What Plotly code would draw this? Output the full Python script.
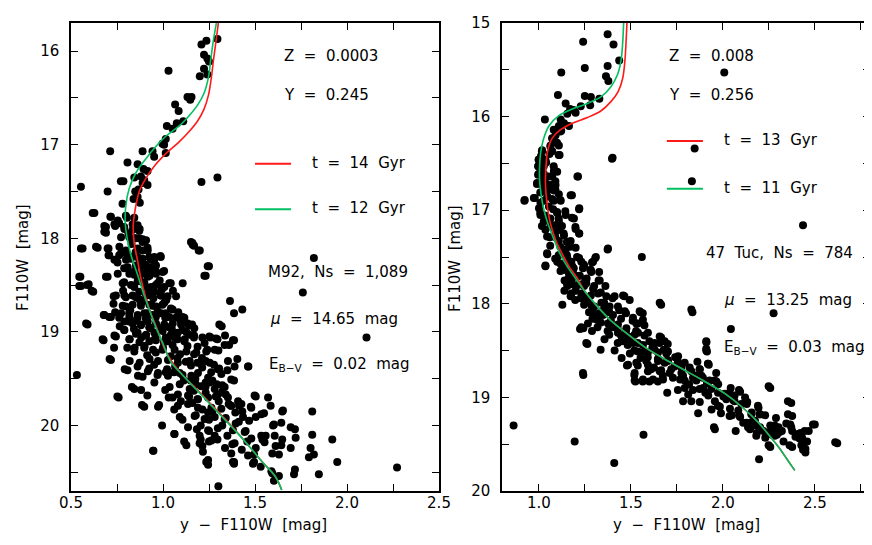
import plotly.graph_objects as go
from plotly.subplots import make_subplots

# ---------------- data ----------------
# M92 stars: [y - F110W, F110W]
m92_stars = [
    [1.296, 15.87], [1.209, 15.93], [1.236, 15.89], [1.223, 16.04], [1.241, 16.08], [1.250, 16.11],
    [1.030, 16.21], [1.223, 16.19], [1.200, 16.27], [1.241, 16.25], [1.133, 16.49], [1.155, 16.49],
    [1.148, 16.52], [1.066, 16.57], [1.085, 16.64], [1.110, 16.75], [1.075, 16.77], [1.052, 16.83],
    [1.021, 16.80], [1.015, 16.94], [0.997, 16.99], [1.006, 17.00], [1.015, 17.09], [0.943, 17.07],
    [0.952, 17.13], [0.889, 17.07], [0.713, 17.07], [0.807, 17.19], [0.862, 17.21], [0.894, 17.26],
    [0.916, 17.28], [0.844, 17.35], [0.880, 17.34], [0.898, 17.38], [0.889, 17.41], [0.916, 17.43],
    [0.771, 17.39], [0.785, 17.39], [0.554, 17.45], [0.699, 17.50], [0.849, 17.50], [0.867, 17.48],
    [0.862, 17.56], [0.840, 17.58], [0.780, 17.63], [0.874, 17.62], [1.209, 17.40], [1.296, 17.35],
    [0.627, 17.73], [0.717, 17.77], [0.798, 17.76], [0.762, 17.84], [0.690, 17.88], [0.690, 17.94],
    [0.740, 17.87], [0.789, 17.88], [0.835, 17.91], [0.873, 17.90], [0.844, 18.00], [0.871, 18.00],
    [0.889, 18.04], [0.916, 18.10], [0.563, 18.11], [0.645, 18.10], [0.704, 18.11], [0.704, 18.18],
    [0.762, 18.18], [0.753, 18.26], [0.798, 18.15], [0.825, 18.22], [0.789, 18.32], [0.871, 18.22],
    [0.925, 18.20], [0.952, 18.24], [0.988, 18.20], [0.907, 18.35], [0.844, 18.39], [0.889, 18.47],
    [0.943, 18.35], [1.006, 18.35], [0.961, 18.50], [0.916, 18.54], [1.042, 18.48], [1.160, 18.05],
    [1.169, 18.08], [1.200, 18.13], [1.250, 18.30], [1.232, 18.40], [1.820, 18.21], [1.760, 18.58],
    [0.551, 18.41], [0.555, 18.51], [0.596, 18.49], [0.621, 18.57], [0.699, 18.41], [0.789, 18.47],
    [0.844, 18.52], [0.798, 18.63], [0.744, 18.61], [0.853, 18.63], [0.894, 18.67], [0.934, 18.61],
    [0.988, 18.61], [0.997, 18.71], [0.943, 18.72], [0.880, 18.72], [0.798, 18.73], [0.740, 18.79],
    [0.681, 18.82], [0.708, 18.84], [0.762, 18.85], [0.816, 18.80], [0.862, 18.85], [0.916, 18.80],
    [0.961, 18.84], [1.015, 18.80], [1.052, 18.76], [1.070, 18.85], [1.106, 18.84], [1.142, 18.93],
    [1.106, 18.98], [1.033, 18.95], [0.988, 18.96], [0.925, 18.95], [0.880, 18.93], [0.816, 18.89],
    [0.789, 18.98], [0.853, 19.02], [0.907, 19.04], [0.961, 19.09], [1.015, 19.06], [1.079, 19.08],
    [1.169, 19.04], [1.214, 19.06], [1.259, 19.06], [1.296, 19.08], [1.359, 19.14], [1.386, 19.09],
    [1.337, 19.04], [1.319, 18.94], [1.386, 18.80], [1.431, 18.76], [1.364, 18.67], [2.106, 19.06],
    [0.590, 18.92], [0.677, 19.09], [0.744, 19.05], [0.717, 19.30], [0.532, 19.46], [0.807, 19.41],
    [0.844, 19.21], [0.898, 19.17], [0.961, 19.22], [0.997, 19.19], [1.042, 19.26], [1.079, 19.28],
    [1.124, 19.32], [1.169, 19.24], [1.187, 19.33], [1.232, 19.31], [1.277, 19.35], [1.305, 19.39],
    [1.350, 19.41], [1.404, 19.29], [1.464, 19.37], [1.241, 19.19], [1.301, 19.20], [0.862, 19.37],
    [0.925, 19.39], [0.889, 19.48], [0.970, 19.46], [1.015, 19.43], [1.060, 19.43], [1.106, 19.46],
    [1.151, 19.52], [1.178, 19.56], [1.232, 19.54], [1.268, 19.52], [1.322, 19.57], [1.386, 19.52],
    [1.341, 19.67], [1.287, 19.69], [1.232, 19.65], [1.187, 19.72], [1.142, 19.69], [1.097, 19.74],
    [1.052, 19.70], [0.979, 19.78], [0.898, 19.80], [0.844, 19.61], [0.759, 19.70], [0.948, 20.27],
    [1.061, 20.09], [1.115, 20.17], [1.106, 19.94], [1.160, 19.76], [1.178, 19.89], [1.214, 19.83],
    [1.268, 19.85], [1.250, 19.94], [1.205, 20.00], [1.250, 20.06], [1.205, 20.15], [1.214, 20.22],
    [1.250, 20.17], [1.296, 20.15], [1.322, 20.00], [1.341, 19.92], [1.368, 19.79], [1.413, 19.79],
    [1.431, 19.85], [1.395, 19.98], [1.449, 20.06], [1.458, 20.17], [1.377, 20.20], [1.350, 20.11],
    [1.504, 19.69], [1.477, 19.80], [1.549, 19.87], [1.585, 19.79], [1.504, 19.91], [1.603, 19.99],
    [1.648, 19.85], [1.694, 20.02], [1.717, 20.04], [1.721, 20.13], [1.648, 20.15], [1.612, 20.22],
    [1.540, 20.15], [1.558, 20.11], [1.504, 20.24], [1.594, 20.30], [1.630, 20.31], [1.694, 20.24],
    [1.811, 19.85], [1.811, 20.10], [1.802, 20.24], [1.820, 20.31], [1.793, 20.34], [1.920, 20.15],
    [1.947, 20.39], [1.847, 20.52], [2.272, 20.45], [1.717, 20.47], [1.712, 20.52], [1.630, 20.54],
    [1.594, 20.51], [1.603, 20.59], [1.495, 20.39], [1.531, 20.44], [1.386, 20.39], [1.386, 20.41],
    [1.245, 20.37], [1.245, 20.42], [1.301, 20.65], [1.495, 20.31],
]
m92_stars_core = [
    [0.618, 17.73], [0.714, 17.77], [0.754, 17.81], [0.736, 17.85], [0.681, 17.87], [0.681, 17.93],
    [0.804, 17.78], [0.844, 17.78], [0.835, 17.85], [0.862, 17.86], [0.790, 17.90], [0.871, 17.92],
    [0.772, 17.99], [0.817, 17.99], [0.853, 18.00], [0.889, 18.01], [0.908, 18.02], [0.554, 18.11],
    [0.636, 18.09], [0.699, 18.11], [0.763, 18.09], [0.772, 18.16], [0.799, 18.13], [0.862, 18.11],
    [0.889, 18.13], [0.917, 18.13], [0.708, 18.18], [0.736, 18.23], [0.799, 18.23], [0.826, 18.20],
    [0.862, 18.20], [0.889, 18.22], [0.935, 18.23], [0.953, 18.20], [0.986, 18.19], [0.808, 18.31],
    [0.853, 18.29], [0.889, 18.31], [0.926, 18.31], [0.962, 18.29], [0.690, 18.41], [0.545, 18.41],
    [0.817, 18.38], [0.853, 18.39], [0.889, 18.38], [0.917, 18.41], [0.962, 18.38], [0.998, 18.36],
    [0.545, 18.51], [0.587, 18.50], [0.612, 18.56], [0.781, 18.48], [0.826, 18.50], [0.862, 18.46],
    [0.899, 18.48], [0.935, 18.52], [0.971, 18.48], [1.007, 18.52], [1.034, 18.48], [1.107, 18.48],
    [0.732, 18.62], [0.790, 18.61], [0.835, 18.61], [0.871, 18.57], [0.908, 18.61], [0.953, 18.57],
    [0.989, 18.61], [1.025, 18.62], [1.071, 18.62], [1.152, 18.04], [1.161, 18.07], [1.194, 18.13],
    [1.243, 18.30], [1.225, 18.40], [0.781, 18.72], [0.835, 18.71], [0.880, 18.69], [0.926, 18.71],
    [0.962, 18.73], [1.007, 18.69], [1.043, 18.75], [0.678, 18.82], [0.717, 18.84], [0.772, 18.80],
    [0.817, 18.84], [0.862, 18.82], [0.899, 18.80], [0.944, 18.82], [0.989, 18.80], [1.034, 18.84],
    [1.080, 18.84], [1.116, 18.85], [0.582, 18.91], [0.790, 18.89], [0.835, 18.91], [0.880, 18.92],
    [0.917, 18.89], [0.962, 18.91], [1.007, 18.92], [1.053, 18.91], [1.098, 18.92], [1.134, 18.91],
    [1.170, 18.96], [0.736, 19.04], [0.790, 18.98], [0.862, 19.01], [0.908, 19.03], [0.953, 19.01],
    [0.998, 18.99], [1.043, 19.03], [1.080, 19.01], [1.143, 19.03], [0.672, 19.08], [0.817, 19.08],
    [0.926, 19.10], [1.025, 19.10], [1.116, 19.10], [1.252, 19.05], [1.288, 19.07], [1.306, 18.92],
    [0.819, 19.08], [0.882, 19.06], [0.955, 19.08], [1.063, 19.06], [1.118, 19.08], [1.168, 19.06],
    [1.226, 19.12], [1.281, 19.19], [1.335, 19.14], [1.380, 19.09], [0.846, 19.17], [0.900, 19.15],
    [0.946, 19.19], [1.000, 19.17], [1.063, 19.19], [1.127, 19.21], [1.181, 19.22], [1.235, 19.21],
    [0.710, 19.29], [0.819, 19.31], [0.873, 19.33], [0.927, 19.29], [0.973, 19.31], [1.027, 19.30],
    [1.081, 19.33], [1.145, 19.31], [1.199, 19.33], [1.254, 19.33], [1.299, 19.40], [1.353, 19.31],
    [1.389, 19.37], [1.462, 19.37], [0.792, 19.40], [0.864, 19.47], [0.918, 19.42], [0.973, 19.44],
    [1.027, 19.47], [1.091, 19.44], [1.154, 19.47], [1.190, 19.44], [1.245, 19.49], [1.317, 19.45],
    [1.371, 19.51], [0.831, 19.59], [1.036, 19.59], [1.091, 19.56], [1.145, 19.61], [1.208, 19.58],
    [1.254, 19.54], [1.281, 19.61], [1.335, 19.59], [0.752, 19.69], [0.915, 19.68], [1.031, 19.70],
    [1.081, 19.67], [1.136, 19.68], [1.190, 19.72], [1.245, 19.70], [1.299, 19.67], [1.353, 19.70],
    [1.408, 19.74], [1.498, 19.68], [1.571, 19.70], [0.886, 19.78], [0.973, 19.80], [1.081, 19.79],
    [1.136, 19.77], [1.190, 19.81], [1.263, 19.81], [1.317, 19.82], [1.371, 19.79], [1.426, 19.77],
    [1.480, 19.81], [1.652, 19.84], [1.091, 19.91], [1.172, 19.90], [1.226, 19.93], [1.281, 19.91],
    [1.335, 19.93], [1.435, 19.91], [1.534, 19.88], [1.598, 20.00], [1.643, 19.97], [1.063, 20.09],
    [1.136, 20.02], [1.199, 20.11], [1.245, 20.05], [1.281, 20.11], [1.380, 20.05], [1.444, 20.07],
    [1.534, 20.11], [1.607, 20.11], [1.127, 20.21], [1.199, 20.19], [1.263, 20.16], [1.389, 20.19],
    [1.480, 20.14], [1.552, 20.18], [1.643, 20.21], [0.946, 20.27], [1.217, 20.28], [1.371, 20.30],
    [1.462, 20.32], [1.235, 20.39], [1.380, 20.39], [1.489, 20.41], [1.589, 20.49],
]
m92_stars_fill = [
    [0.812, 17.95], [0.829, 18.06], [0.851, 18.15], [0.874, 18.26], [0.846, 18.35], [0.903, 18.28],
    [0.927, 18.40], [0.871, 18.44], [0.957, 18.33], [0.982, 18.45], [0.911, 18.53], [0.948, 18.64],
    [0.869, 18.65], [0.993, 18.55], [1.018, 18.66], [1.054, 18.56], [0.822, 18.77], [0.852, 18.88],
    [0.907, 18.86], [0.933, 18.96], [0.971, 18.78], [1.012, 18.85], [1.048, 18.97], [1.083, 18.79],
    [1.097, 18.88], [1.127, 19.00], [1.158, 18.92], [0.872, 19.11], [0.962, 19.04], [1.004, 19.11],
    [1.052, 19.14], [1.093, 19.24], [1.133, 19.15], [1.188, 19.16], [1.212, 19.28], [1.152, 19.36],
    [1.066, 19.37], [1.022, 19.40], [0.952, 19.35], [1.113, 19.52], [1.176, 19.50], [1.213, 19.38],
    [1.262, 19.43], [1.292, 19.56], [1.231, 19.59], [1.168, 19.63], [1.322, 19.64], [1.357, 19.77],
    [1.245, 19.86], [1.303, 19.74], [1.393, 19.86], [1.412, 19.96], [1.468, 19.95], [1.298, 20.03],
    [1.337, 20.24], [1.428, 20.26], [1.184, 20.04], [0.783, 18.56], [0.754, 18.38], [0.731, 18.70],
    [0.842, 18.97], [0.765, 18.94], [0.806, 19.17], [0.734, 19.17], [0.914, 19.25], [0.953, 19.54],
    [0.881, 19.62], [1.012, 19.62], [1.061, 19.83], [0.995, 20.00],
]

# 47 Tuc stars: [y - F110W, F110W]
tuc47_stars = [
    [1.374, 15.12], [1.241, 15.20], [1.406, 15.23], [1.437, 15.40], [1.374, 15.46], [1.250, 15.48],
    [1.122, 15.53], [2.008, 15.53], [1.365, 15.57], [1.378, 15.62], [1.104, 15.77], [1.250, 15.78],
    [1.283, 15.79], [1.329, 15.81], [1.279, 15.88], [1.228, 15.89], [1.146, 15.86], [1.170, 15.92],
    [1.188, 15.93], [1.155, 15.97], [1.200, 15.96], [1.033, 16.03], [1.119, 16.03], [1.137, 16.07],
    [1.109, 16.10], [1.164, 16.10], [1.122, 16.15], [1.091, 16.20], [1.078, 16.26], [1.064, 16.31],
    [1.109, 16.31], [1.018, 16.36], [1.073, 16.37], [1.113, 16.41], [1.401, 16.44], [1.847, 16.34],
    [1.832, 16.69], [1.000, 16.46], [0.996, 16.53], [1.027, 16.53], [1.000, 16.61], [1.027, 16.61],
    [1.082, 16.58], [1.100, 16.59], [1.073, 16.64], [1.210, 16.64], [0.991, 16.71], [1.018, 16.73],
    [1.064, 16.73], [1.091, 16.73], [1.027, 16.79], [1.082, 16.79], [1.109, 16.83], [1.173, 16.84],
    [0.922, 16.90], [0.973, 16.87], [1.009, 16.92], [1.082, 16.90], [1.119, 16.90], [1.055, 16.96],
    [1.219, 16.99], [1.009, 17.05], [1.036, 17.06], [1.100, 17.03], [1.146, 17.05], [1.191, 17.09],
    [1.027, 17.12], [1.064, 17.16], [1.109, 17.12], [1.200, 17.20], [1.219, 17.25], [1.036, 17.21],
    [1.091, 17.23], [1.137, 17.27], [1.060, 17.29], [1.109, 17.33], [1.173, 17.33], [1.200, 17.40],
    [1.146, 17.42], [1.046, 17.47], [1.374, 17.42], [1.560, 17.50], [2.436, 17.16], [1.119, 17.47],
    [1.100, 17.55], [1.155, 17.51], [1.219, 17.51], [1.310, 17.50], [1.036, 17.60], [1.128, 17.60],
    [1.182, 17.60], [1.246, 17.59], [1.283, 17.64], [1.164, 17.68], [1.140, 17.75], [1.200, 17.70],
    [1.223, 17.70], [1.260, 17.73], [1.328, 17.66], [1.155, 17.81], [1.182, 17.79], [1.246, 17.81],
    [1.301, 17.81], [1.200, 17.86], [1.173, 17.92], [1.228, 17.94], [1.283, 17.91], [1.337, 17.88],
    [1.401, 17.94], [1.465, 17.92], [1.246, 18.01], [1.301, 18.03], [1.355, 17.99], [1.128, 18.01],
    [1.665, 18.01], [1.835, 18.09], [2.276, 18.10], [2.044, 18.27], [1.273, 18.09], [1.328, 18.10],
    [1.383, 18.09], [1.437, 18.07], [1.474, 18.10], [1.552, 18.09], [1.565, 18.10], [1.292, 18.16],
    [1.337, 18.20], [1.392, 18.18], [1.447, 18.16], [1.510, 18.18], [1.538, 18.21], [1.224, 18.27],
    [1.242, 18.26], [1.319, 18.25], [1.374, 18.29], [1.429, 18.27], [1.474, 18.29], [1.529, 18.29],
    [1.574, 18.23], [1.383, 18.33], [1.447, 18.34], [1.501, 18.36], [1.574, 18.34], [1.264, 18.43],
    [1.429, 18.42], [1.483, 18.44], [1.538, 18.42], [1.601, 18.40], [1.665, 18.36], [1.656, 18.42],
    [1.701, 18.43], [1.911, 18.41], [1.914, 18.51], [1.519, 18.50], [1.574, 18.51], [1.629, 18.49],
    [1.693, 18.53], [1.479, 18.66], [1.538, 18.66], [1.592, 18.57], [1.647, 18.59], [1.701, 18.60],
    [1.756, 18.62], [1.610, 18.70], [1.665, 18.71], [1.720, 18.70], [1.775, 18.68], [1.820, 18.68],
    [1.875, 18.70], [1.924, 18.65], [1.242, 18.76], [1.519, 18.76], [1.565, 18.83], [1.601, 18.83],
    [1.647, 18.83], [1.525, 18.83], [1.674, 18.77], [1.729, 18.79], [1.784, 18.77], [1.838, 18.79],
    [1.884, 18.77], [1.914, 18.85], [1.975, 18.86], [1.698, 18.95], [1.756, 18.92], [1.793, 18.90],
    [1.838, 18.92], [1.893, 18.90], [1.784, 19.04], [1.829, 19.04], [1.875, 19.05], [1.921, 18.98],
    [1.957, 19.04], [2.003, 18.99], [2.030, 18.97], [2.057, 19.03], [2.094, 18.94], [1.984, 19.10],
    [2.039, 19.12], [2.094, 19.21], [2.130, 19.07], [1.866, 19.17], [1.957, 19.34], [2.070, 19.36],
    [2.157, 19.16], [2.194, 19.11], [2.203, 19.18], [2.230, 19.19], [2.175, 19.25], [2.148, 19.34],
    [2.203, 19.32], [2.221, 19.36], [2.185, 19.38], [2.258, 19.30], [2.285, 19.34], [2.303, 19.32],
    [2.267, 19.40], [2.294, 19.40], [2.321, 19.36], [2.367, 19.29], [2.377, 19.36], [2.422, 19.38],
    [2.431, 19.43], [2.440, 19.49], [2.458, 19.47], [2.449, 19.55], [2.449, 19.59], [2.467, 19.36],
    [2.500, 19.29], [2.372, 19.06], [2.377, 19.20], [2.258, 18.90], [2.377, 19.53], [2.258, 19.53],
    [2.622, 19.49], [2.197, 19.66], [0.863, 19.30], [1.195, 19.47], [1.569, 19.40], [1.410, 19.70],
    [2.084, 19.14], [2.130, 19.27],
]
tuc47_stars_core = [
    [1.081, 16.14], [1.117, 16.16], [1.072, 16.23], [1.099, 16.28], [1.063, 16.32], [1.017, 16.37],
    [1.108, 16.41], [0.999, 16.46], [1.036, 16.46], [0.999, 16.53], [1.017, 16.56], [1.081, 16.53],
    [1.090, 16.58], [0.996, 16.62], [1.054, 16.64], [1.213, 16.64], [1.398, 16.45], [0.990, 16.72],
    [1.036, 16.71], [1.090, 16.69], [1.054, 16.78], [1.090, 16.78], [1.008, 16.81], [1.180, 16.84],
    [0.923, 16.89], [0.978, 16.87], [1.026, 16.90], [1.072, 16.88], [1.117, 16.89], [1.220, 16.98],
    [1.008, 17.03], [1.036, 17.06], [1.099, 17.02], [1.144, 17.01], [1.063, 17.09], [1.108, 17.09],
    [1.180, 17.08], [1.017, 17.17], [1.072, 17.18], [1.126, 17.17], [1.199, 17.18], [1.045, 17.28],
    [1.090, 17.29], [1.135, 17.25], [1.220, 17.25], [1.153, 17.34], [1.117, 17.39], [1.171, 17.39],
    [1.376, 17.41], [1.045, 17.46], [1.108, 17.48], [1.153, 17.48], [1.208, 17.50], [1.307, 17.51],
    [1.036, 17.59], [1.117, 17.57], [1.162, 17.55], [1.244, 17.58], [1.289, 17.56], [1.144, 17.64],
    [1.190, 17.62], [1.280, 17.64], [1.162, 17.73], [1.208, 17.71], [1.253, 17.75], [1.325, 17.75],
    [1.153, 17.78], [1.235, 17.79], [1.362, 17.81],
    [1.177, 17.55], [1.231, 17.55], [1.295, 17.55], [1.186, 17.64], [1.240, 17.62], [1.285, 17.66],
    [1.331, 17.75], [1.177, 17.75], [1.213, 17.80], [1.258, 17.78], [1.295, 17.84], [1.177, 17.89],
    [1.231, 17.89], [1.322, 17.89], [1.367, 17.92], [1.412, 17.92], [1.458, 17.91], [1.494, 17.96],
    [1.267, 17.98], [1.340, 17.99], [1.385, 18.03], [1.430, 18.03], [1.657, 17.99], [1.829, 18.06],
    [1.295, 18.10], [1.349, 18.12], [1.403, 18.12], [1.467, 18.08], [1.512, 18.15], [1.548, 18.08],
    [1.231, 18.25], [1.322, 18.17], [1.376, 18.21], [1.430, 18.22], [1.476, 18.26], [1.530, 18.21],
    [1.566, 18.17], [1.267, 18.21], [1.430, 18.31], [1.485, 18.35], [1.539, 18.31], [1.593, 18.31],
    [1.657, 18.35], [1.684, 18.40], [1.449, 18.40], [1.512, 18.42], [1.566, 18.44], [1.630, 18.42],
    [1.258, 18.42], [1.910, 18.40], [1.910, 18.48], [1.539, 18.51], [1.593, 18.52], [1.648, 18.52],
    [1.702, 18.51], [1.757, 18.56], [1.485, 18.65], [1.530, 18.63], [1.593, 18.65], [1.648, 18.61],
    [1.702, 18.61], [1.738, 18.67], [1.793, 18.63], [1.920, 18.64], [1.240, 18.74], [1.521, 18.74],
    [1.593, 18.72], [1.657, 18.72], [1.711, 18.74], [1.775, 18.74], [1.829, 18.72], [1.521, 18.82],
    [1.566, 18.81], [1.621, 18.81], [1.675, 18.81], [1.793, 18.82], [1.856, 18.82], [1.920, 18.84],
    [1.956, 18.82],
    [1.910, 18.50], [1.919, 18.64], [1.874, 18.70], [1.892, 18.79], [1.928, 18.82], [1.965, 18.83],
    [1.874, 18.91], [1.937, 18.91], [1.974, 18.95], [2.010, 18.96], [2.037, 18.95], [2.064, 18.98],
    [2.088, 18.92], [2.249, 18.88], [2.019, 19.02], [2.064, 19.04], [2.101, 19.07], [2.133, 19.05],
    [2.191, 19.09], [2.354, 19.04], [1.974, 19.09], [2.155, 19.18], [2.200, 19.18], [2.354, 19.18],
    [2.037, 19.20], [2.091, 19.20], [1.952, 19.32], [2.137, 19.32], [2.182, 19.30], [2.282, 19.30],
    [2.345, 19.28], [2.372, 19.32], [2.490, 19.29], [2.254, 19.37], [2.309, 19.37], [2.408, 19.39],
    [2.445, 19.36], [2.182, 19.41], [2.282, 19.41], [2.417, 19.44], [2.249, 19.51], [2.363, 19.51],
    [2.427, 19.51], [2.436, 19.56], [2.611, 19.48],
]
tuc47_stars_fill = [
    [1.012, 16.42], [1.040, 16.49], [1.058, 16.40], [1.021, 16.66], [1.046, 16.85], [1.001, 16.98],
    [1.078, 16.99], [1.039, 17.10], [1.085, 17.16], [1.112, 17.21], [1.062, 17.38], [1.089, 17.52],
    [1.118, 17.65], [1.139, 17.86], [1.198, 17.96], [1.262, 17.93], [1.287, 18.02], [1.353, 18.06],
    [1.316, 18.17], [1.289, 18.29], [1.401, 18.25], [1.357, 18.38], [1.412, 18.50], [1.473, 18.40],
    [1.495, 18.53], [1.553, 18.58], [1.520, 18.33], [1.617, 18.47], [1.679, 18.49], [1.626, 18.68],
    [1.684, 18.63], [1.741, 18.57], [1.768, 18.81], [1.817, 18.86], [1.852, 18.77], [1.812, 18.97],
    [1.905, 18.95], [1.939, 19.13], [1.990, 19.17], [2.050, 19.19], [2.111, 19.27], [2.160, 19.26],
    [2.231, 19.43], [2.330, 19.47], [2.395, 19.42], [2.289, 19.22], [2.121, 19.00], [2.043, 18.90],
    [1.964, 18.74], [1.862, 18.62], [1.584, 18.61], [1.450, 18.58], [1.336, 18.49],
]

# Isochrones (color, magnitude)
m92_iso14_color = [1.301, 1.287, 1.274, 1.263, 1.247, 1.223, 1.187, 1.142, 1.088, 1.024, 0.961, 0.907,
                   0.871, 0.849, 0.838, 0.844, 0.862, 0.880, 0.903, 0.934, 0.970, 1.006, 1.052, 1.106,
                   1.182, 1.255, 1.327, 1.397, 1.467, 1.540, 1.612, 1.645]
m92_iso14_mag = [15.70, 15.91, 16.10, 16.28, 16.47, 16.62, 16.75, 16.86, 16.97, 17.08, 17.21, 17.36,
                 17.50, 17.69, 17.87, 18.06, 18.24, 18.43, 18.61, 18.80, 18.98, 19.17, 19.33, 19.46,
                 19.61, 19.76, 19.91, 20.06, 20.22, 20.39, 20.55, 20.69]
m92_iso12_color = [1.290, 1.272, 1.259, 1.247, 1.223, 1.187, 1.142, 1.088, 1.015, 0.961, 0.907, 0.853,
                   0.816, 0.798, 0.795, 0.807, 0.831, 0.862, 0.892, 0.925, 0.961, 1.001, 1.042, 1.106,
                   1.178, 1.250, 1.322, 1.395, 1.467, 1.540, 1.612, 1.645]
m92_iso12_mag = [15.70, 15.91, 16.10, 16.28, 16.45, 16.58, 16.69, 16.80, 16.91, 17.02, 17.15, 17.30,
                 17.47, 17.65, 17.84, 18.02, 18.21, 18.39, 18.58, 18.76, 18.95, 19.13, 19.32, 19.46,
                 19.61, 19.76, 19.91, 20.06, 20.22, 20.39, 20.55, 20.69]

tuc_iso13_color = [1.479, 1.474, 1.468, 1.456, 1.432, 1.392, 1.337, 1.264, 1.182, 1.118, 1.073, 1.049,
                   1.040, 1.036, 1.042, 1.055, 1.073, 1.100, 1.128, 1.164, 1.210, 1.255, 1.319, 1.392,
                   1.474, 1.574, 1.683, 1.793, 1.902, 2.012, 2.103, 2.194, 2.258, 2.303, 2.349, 2.391]
tuc_iso13_mag = [15.00, 15.21, 15.40, 15.59, 15.73, 15.84, 15.94, 16.01, 16.07, 16.14, 16.23, 16.36,
                 16.51, 16.70, 16.88, 17.07, 17.21, 17.36, 17.47, 17.60, 17.73, 17.88, 18.03, 18.18,
                 18.31, 18.46, 18.59, 18.71, 18.83, 18.96, 19.10, 19.27, 19.42, 19.53, 19.66, 19.78]
tuc_iso11_color = [1.461, 1.456, 1.447, 1.428, 1.392, 1.337, 1.264, 1.182, 1.109, 1.055, 1.024, 1.009,
                   1.004, 1.005, 1.013, 1.027, 1.049, 1.078, 1.109, 1.151, 1.200, 1.255, 1.319, 1.392,
                   1.474, 1.574, 1.683, 1.793, 1.902, 2.012, 2.103, 2.194, 2.258, 2.303, 2.349, 2.391]
tuc_iso11_mag = [15.00, 15.21, 15.40, 15.55, 15.68, 15.79, 15.86, 15.92, 15.99, 16.10, 16.25, 16.40,
                 16.55, 16.70, 16.84, 16.99, 17.14, 17.29, 17.44, 17.59, 17.73, 17.88, 18.03, 18.18,
                 18.31, 18.46, 18.59, 18.71, 18.83, 18.96, 19.10, 19.27, 19.42, 19.53, 19.66, 19.78]

RED = "#ff1a1a"
GREEN = "#00c060"
FONT = "DejaVu Sans"

fig = make_subplots(rows=1, cols=2, horizontal_spacing=0.05)

def add_panel(col, stars, iso_old, iso_young):
    fig.add_trace(go.Scatter(x=[s[0] for s in stars], y=[s[1] for s in stars], mode="markers",
                             marker=dict(color="black", size=8, line=dict(width=0)),
                             showlegend=False, hoverinfo="skip"), row=1, col=col)
    fig.add_trace(go.Scatter(x=iso_old[0], y=iso_old[1], mode="lines", line=dict(color=RED, width=1.6, shape="spline"),
                             showlegend=False), row=1, col=col)
    fig.add_trace(go.Scatter(x=iso_young[0], y=iso_young[1], mode="lines", line=dict(color=GREEN, width=1.6, shape="spline"),
                             showlegend=False), row=1, col=col)

add_panel(1, m92_stars + m92_stars_core + m92_stars_fill,
          (m92_iso14_color, m92_iso14_mag), (m92_iso12_color, m92_iso12_mag))
add_panel(2, tuc47_stars + tuc47_stars_core + tuc47_stars_fill,
          (tuc_iso13_color, tuc_iso13_mag), (tuc_iso11_color, tuc_iso11_mag))

axis_common = dict(showgrid=False, zeroline=False, showline=True, linecolor="black", linewidth=1.5,
                   mirror="ticks", ticks="inside", ticklen=7, tickwidth=1.2, tickcolor="black",
                   automargin=False, tickfont=dict(family=FONT, size=15, color="black"))

fig.update_xaxes(**axis_common, tick0=0.5, dtick=0.5, tickformat=".1f",
                 minor=dict(dtick=0.25, ticks="inside", ticklen=7, tickwidth=1.2, tickcolor="black"),
                 ticklabelstandoff=-3)
fig.update_yaxes(**axis_common, dtick=1,
                 minor=dict(dtick=0.5, ticks="inside", ticklen=7, tickwidth=1.2, tickcolor="black"),
                 ticklabelstandoff=7)

YDOM = [1 - 483/545, 1 - 15/545]
fig.update_xaxes(range=[0.5, 2.5], domain=[63/872, 431/872], row=1, col=1)
fig.update_xaxes(range=[0.8, 2.8], domain=[494/872, 862/872], row=1, col=2)
fig.update_yaxes(range=[20.7, 15.7], domain=YDOM, row=1, col=1)
fig.update_yaxes(range=[20.0, 15.0], domain=YDOM, row=1, col=2)

ann = []
def txt(xref, yref, x, y, s, anchor="left"):
    ann.append(dict(xref=xref, yref=yref, x=x, y=y, text=s, showarrow=False, xanchor=anchor,
                    yanchor="middle", font=dict(family=FONT, size=15, color="black")))

# left panel texts
txt("x domain", "y domain", 0.573, 0.930, "Z  =  0.0003")
txt("x domain", "y domain", 0.573, 0.847, "Y  =  0.245")
txt("x domain", "y domain", 0.649, 0.701, "t  =  14  Gyr")
txt("x domain", "y domain", 0.649, 0.604, "t  =  12  Gyr")
txt("x domain", "y domain", 0.530, 0.468, "M92,  Ns  =  1,089")
txt("x domain", "y domain", 0.535, 0.367, "<i>μ</i>  =  14.65  mag")
txt("x domain", "y domain", 0.533, 0.271, "E<sub>B−V</sub>  =  0.02  mag")
# right panel texts
txt("x2 domain", "y2 domain", 0.448, 0.930, "Z  =  0.008")
txt("x2 domain", "y2 domain", 0.448, 0.847, "Y  =  0.256")
txt("x2 domain", "y2 domain", 0.598, 0.750, "t  =  13  Gyr")
txt("x2 domain", "y2 domain", 0.598, 0.648, "t  =  11  Gyr")
txt("x2 domain", "y2 domain", 0.549, 0.508, "47  Tuc,  Ns  =  784")
txt("x2 domain", "y2 domain", 0.598, 0.409, "<i>μ</i>  =  13.25  mag")
txt("x2 domain", "y2 domain", 0.598, 0.307, "E<sub>B−V</sub>  =  0.03  mag")

# axis titles
txt("paper", "paper", 246/872, 1-517/545, "y  −  F110W  [mag]", anchor="center")
txt("paper", "paper", 678/872, 1-517/545, "y  −  F110W  [mag]", anchor="center")
for xp in (15/872, 447/872):
    ann.append(dict(xref="paper", yref="paper", x=xp, y=1-250/545, text="F110W  [mag]", showarrow=False,
                    textangle=-90, xanchor="center", yanchor="middle",
                    font=dict(family=FONT, size=15, color="black")))

shapes = [
    dict(type="line", xref="x domain", yref="y domain", x0=0.50, x1=0.598, y0=0.699, y1=0.699,
         line=dict(color=RED, width=2)),
    dict(type="line", xref="x domain", yref="y domain", x0=0.50, x1=0.598, y0=0.602, y1=0.602,
         line=dict(color=GREEN, width=2)),
    dict(type="line", xref="x2 domain", yref="y2 domain", x0=0.448, x1=0.546, y0=0.748, y1=0.748,
         line=dict(color=RED, width=2)),
    dict(type="line", xref="x2 domain", yref="y2 domain", x0=0.448, x1=0.546, y0=0.646, y1=0.646,
         line=dict(color=GREEN, width=2)),
]

fig.update_layout(width=872, height=545, margin=dict(l=0, r=0, t=0, b=0),
                  paper_bgcolor="white", plot_bgcolor="white", annotations=ann, shapes=shapes,
                  font=dict(family=FONT, size=15, color="black"), showlegend=False)

fig.write_html("out.html")
